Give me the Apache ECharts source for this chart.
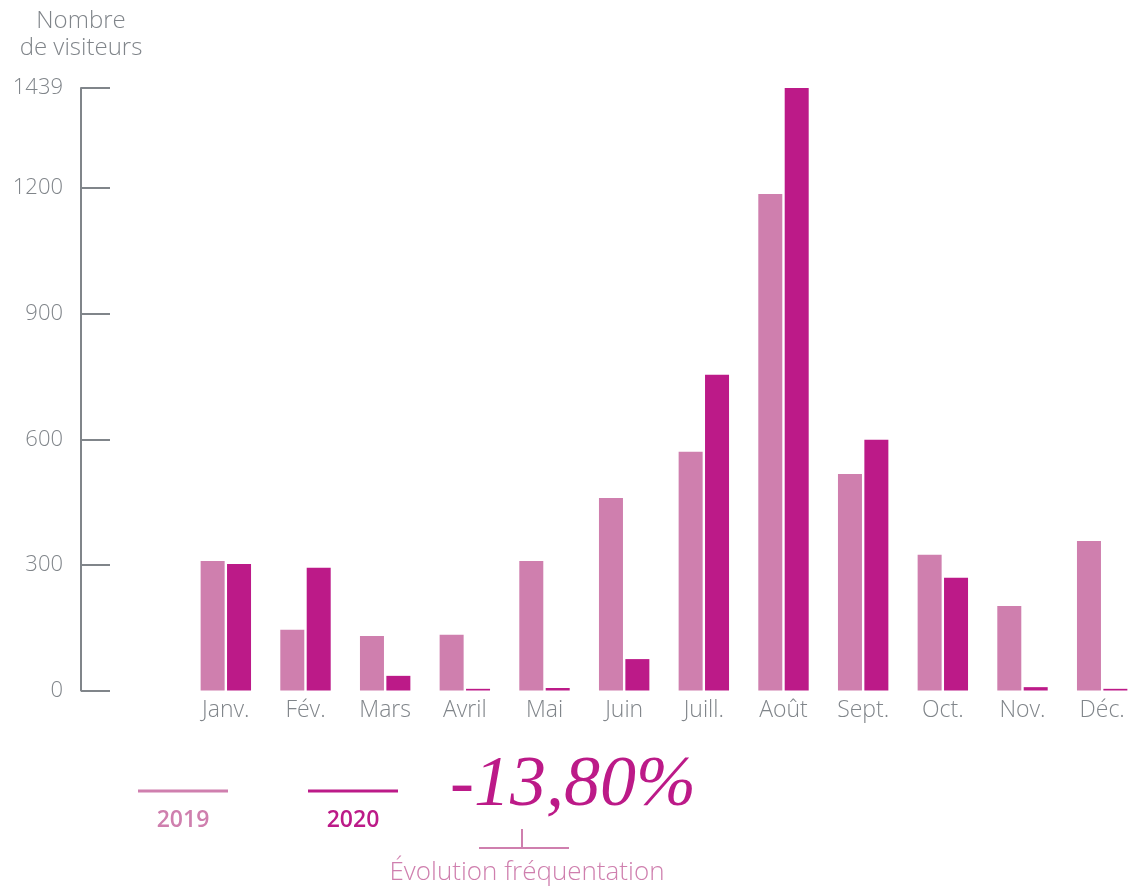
<!DOCTYPE html>
<html>
<head>
<meta charset="utf-8">
<script src="https://cdn.jsdelivr.net/npm/echarts@6/dist/echarts.min.js"></script>
<style>
  html, body { margin: 0; padding: 0; background: #fff; overflow: hidden; }
  /* le graphique dépasse un peu à droite, comme dans l'original */
  #chart { width: 1142px; height: 890px; }
</style>
</head>
<body>
<div id="chart"></div>
<script>
const months = ['Janv.', 'Fév.', 'Mars', 'Avril', 'Mai', 'Juin', 'Juill.', 'Août', 'Sept.', 'Oct.', 'Nov.', 'Déc.'];
const visitors2019 = [309, 145, 130, 133, 309, 460, 570, 1186, 517, 324, 202, 357];
const visitors2020 = [302, 293, 35, 4, 6, 75, 754, 1439, 599, 269, 8, 4];
const yMax = 1439;
const evolution = '-13,80%';

const grey = '#80858a';
const pink = '#cf7fae';
const magenta = '#bc1a88';
const font = '"Open Sans", "Noto Sans", sans-serif';

const chart = echarts.init(document.getElementById('chart'), null, { renderer: 'canvas' });

const option = {
  animation: false,
  backgroundColor: '#fff',
  grid: { left: 186, right: 0, top: 88, bottom: 199.5, containLabel: false },
  xAxis: {
    type: 'category',
    data: months,
    axisLine: { show: false },
    axisTick: { show: false },
    axisLabel: { color: grey, fontSize: 23, fontFamily: font, fontWeight: 300, margin: 8 }
  },
  yAxis: {
    type: 'value',
    min: 0,
    max: yMax,
    interval: 300,
    offset: 105,
    name: 'Nombre\nde visiteurs',
    nameLocation: 'end',
    nameGap: 26,
    nameTextStyle: { color: grey, fontSize: 24, lineHeight: 27, fontFamily: font, fontWeight: 300, align: 'center' },
    splitLine: { show: false },
    axisLine: { show: true, lineStyle: { color: grey, width: 2 } },
    axisTick: { show: true, inside: true, length: 29, lineStyle: { color: grey, width: 2 } },
    axisLabel: {
      color: grey, fontSize: 22, fontFamily: font, fontWeight: 300, margin: 18,
      formatter: (v) => String(v)
    }
  },
  series: [
    {
      name: '2019',
      type: 'bar',
      data: visitors2019,
      barWidth: 24,
      barGap: '10%',
      itemStyle: { color: pink }
    },
    {
      name: '2020',
      type: 'bar',
      data: visitors2020,
      barWidth: 24,
      itemStyle: { color: magenta }
    }
  ],
  graphic: [
    // légende 2019
    { type: 'line', shape: { x1: 138, y1: 791, x2: 228, y2: 791 }, style: { stroke: pink, lineWidth: 3 } },
    { type: 'text', x: 183, y: 820, style: { text: '2019', fill: pink, fontSize: 23, fontWeight: 600, fontFamily: font, align: 'center', verticalAlign: 'middle' } },
    // légende 2020
    { type: 'line', shape: { x1: 308, y1: 791, x2: 398, y2: 791 }, style: { stroke: magenta, lineWidth: 3 } },
    { type: 'text', x: 353, y: 820, style: { text: '2020', fill: magenta, fontSize: 23, fontWeight: 600, fontFamily: font, align: 'center', verticalAlign: 'middle' } },
    // évolution
    { type: 'text', x: 573, y: 786, style: { text: evolution, fill: magenta, fontSize: 72, fontStyle: 'italic', fontFamily: '"Liberation Serif", "DejaVu Serif", serif', align: 'center', verticalAlign: 'middle' } },
    { type: 'line', shape: { x1: 522, y1: 829, x2: 522, y2: 848 }, style: { stroke: pink, lineWidth: 2 } },
    { type: 'line', shape: { x1: 479, y1: 848, x2: 569, y2: 848 }, style: { stroke: pink, lineWidth: 2 } },
    { type: 'text', x: 527, y: 873, style: { text: 'Évolution fréquentation', fill: pink, fontSize: 26, fontFamily: font, fontWeight: 300, align: 'center', verticalAlign: 'middle' } }
  ]
};

chart.setOption(option);
</script>
</body>
</html>
